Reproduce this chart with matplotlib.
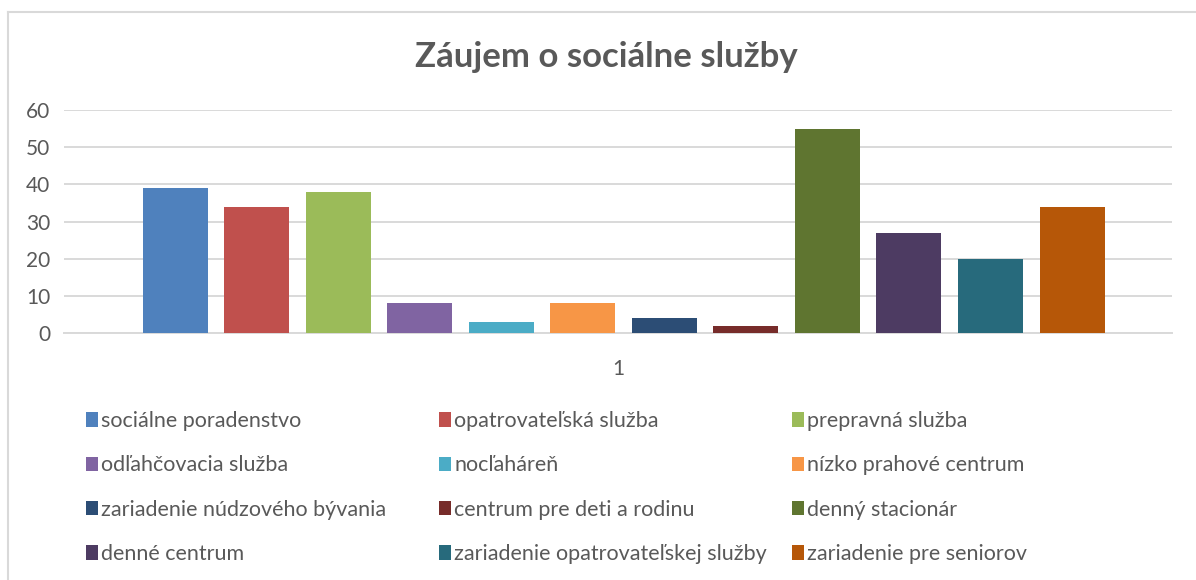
import matplotlib.pyplot as plt
from matplotlib.lines import Line2D
import numpy as np

plt.rcParams['font.family'] = ['Lato', 'DejaVu Sans']

# data
services = ['sociálne poradenstvo', 'opatrovateľská služba', 'prepravná služba',
            'odľahčovacia služba', 'nocľaháreň', 'nízko prahové centrum',
            'zariadenie núdzového bývania', 'centrum pre deti a rodinu', 'denný stacionár',
            'denné centrum', 'zariadenie opatrovateľskej služby', 'zariadenie pre seniorov']
values = [39, 34, 38, 8, 3, 8, 4, 2, 55, 27, 20, 34]
category = ['1']

colors = ['#4F81BD', '#C0504D', '#9BBB59', '#8064A2', '#4BACC6', '#F79646',
          '#2C4D75', '#772C2A', '#5F7530', '#4D3B62', '#276A7C', '#B65708']
grey = '#595959'
gridc = '#D9D9D9'

W, H = 1196, 580
fig = plt.figure(figsize=(W/100, H/100), dpi=100)
ax = fig.add_axes([64/W, 1-333/H, (1172-64)/W, (333-110)/H])

n = len(values)
slot = 0.0736
bw = 0.0587
offs = (np.arange(n) - (n-1)/2) * slot + 0.005
bars = []
for i in range(n):
    b = ax.bar(offs[i], values[i], width=bw, color=colors[i], label=services[i], zorder=3)
    bars.append(b)

ax.set_xlim(-0.5, 0.5)
ax.set_ylim(0, 60)
ax.set_yticks(np.arange(0, 61, 10))
ax.set_xticks([0])
ax.set_xticklabels(category)
ax.grid(axis='y', color=gridc, linewidth=1.4, zorder=0)
for s in ['top', 'right', 'left']:
    ax.spines[s].set_visible(False)
ax.spines['bottom'].set_color(gridc)
ax.spines['bottom'].set_linewidth(1.4)
ax.tick_params(axis='y', length=0, pad=10, labelsize=15, labelcolor=grey)
ax.tick_params(axis='x', length=0, pad=19, labelsize=15, labelcolor=grey)

fig.text(606/W, 1-57/H, 'Záujem o sociálne služby', ha='center', va='center',
         fontsize=25, fontweight='bold', color=grey)

# chart area border (left and top visible)
fig.add_artist(Line2D([8/W, 8/W], [0, 1-12/H], color=gridc, linewidth=1.5))
fig.add_artist(Line2D([8/W, 1], [1-12/H, 1-12/H], color=gridc, linewidth=1.5))

# legend: three equal-width columns
col_x = [86, 439, 792]
for c in range(3):
    idx = [r*3 + c for r in range(4)]
    leg = fig.legend([bars[i] for i in idx], [services[i] for i in idx],
                     loc='upper left', bbox_to_anchor=(col_x[c]/W, 1-411/H),
                     frameon=False, fontsize=15.5, handlelength=0.56, handleheight=0.66,
                     handletextpad=0.15, labelspacing=1.13, borderpad=0, borderaxespad=0)
    for t in leg.get_texts():
        t.set_color(grey)

fig.savefig('out.png', dpi=100)
